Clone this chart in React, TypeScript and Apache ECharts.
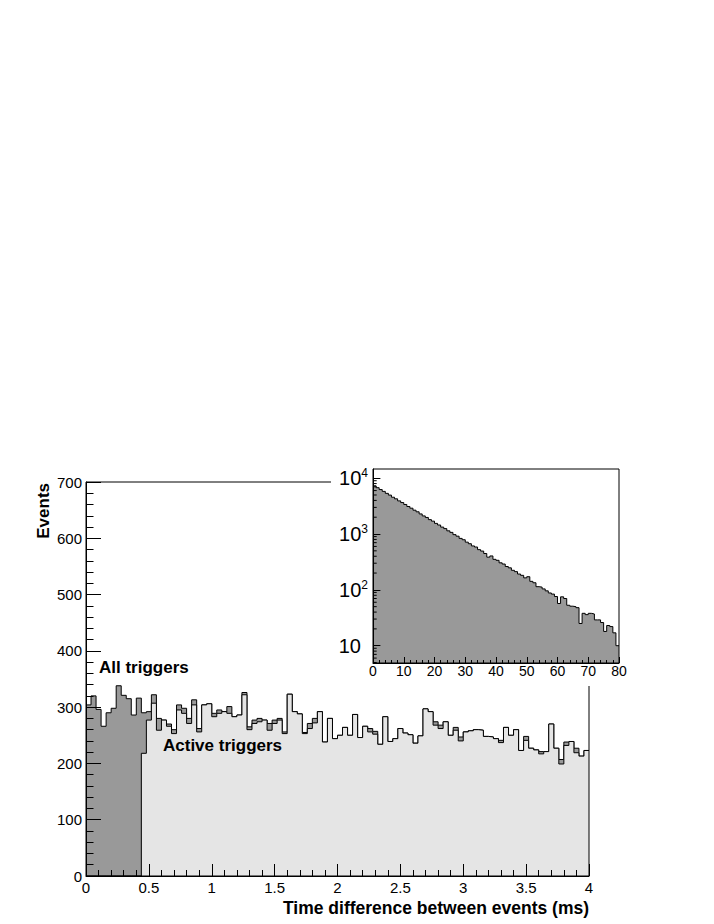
import React, { useEffect, useRef } from "react";
import * as echarts from "echarts";

// ---------------- Data ----------------
const MAIN_X_MIN = 0;
const MAIN_X_MAX = 4;

const allTriggers = [
  304, 320, 296, 266, 290, 298, 338, 321, 315, 286,
  316, 290, 292, 322, 280, 277, 270, 260, 304, 298,
  280, 313, 262, 304, 306, 289, 295, 292, 301, 283,
  286, 326, 265, 277, 280, 277, 271, 277, 280, 256,
  323, 292, 288, 255, 271, 280, 292, 238, 280, 244,
  250, 264, 250, 287, 246, 266, 262, 257, 234, 283,
  239, 244, 262, 254, 251, 236, 249, 297, 292, 274,
  268, 274, 250, 264, 247, 256, 258, 260, 259, 248,
  247, 244, 241, 264, 250, 260, 223, 248, 227, 224,
  221, 221, 270, 227, 207, 238, 239, 227, 213, 223,
];

const activeTriggers = [
  0, 0, 0, 0, 0, 0, 0, 0, 0, 0,
  0, 218, 277, 307, 259, 277, 266, 253, 295, 289,
  271, 304, 256, 304, 306, 283, 289, 292, 289, 283,
  286, 322, 260, 271, 274, 277, 259, 271, 277, 253,
  323, 292, 288, 253, 262, 272, 292, 238, 280, 244,
  250, 264, 250, 287, 246, 266, 256, 252, 234, 283,
  239, 244, 262, 254, 251, 236, 249, 297, 292, 268,
  262, 274, 250, 259, 240, 256, 258, 260, 259, 248,
  247, 244, 237, 264, 250, 260, 223, 241, 227, 224,
  217, 221, 270, 227, 199, 232, 239, 219, 213, 223,
];

const INSET_X_MIN = 0;
const INSET_X_MAX = 80;
const INSET_Y_MIN = 4.9;
const INSET_Y_MAX = 14600;

const insetCounts = [
  7300, 6760, 6250, 5800, 5350, 4980, 4560, 4270, 3920, 3660,
  3380, 3110, 2900, 2670, 2500, 2290, 2110, 1980, 1810, 1700,
  1550, 1450, 1330, 1250, 1140, 1070, 975, 915, 835, 790,
  715, 670, 612, 585, 525, 495, 448, 385, 405, 352,
  338, 305, 290, 262, 248, 224, 212, 192, 182, 164,
  172, 142, 134, 114, 112, 104, 96, 88, 84, 76,
  57, 75, 70, 53, 51, 50, 48, 25, 38, 36,
  38, 37, 29, 29, 26, 18, 23, 22, 17, 10,
];

const insetMinorTickValues = [
  5, 6, 7, 8, 9,
  20, 30, 40, 50, 60, 70, 80, 90,
  200, 300, 400, 500, 600, 700, 800, 900,
  2000, 3000, 4000, 5000, 6000, 7000, 8000, 9000,
];

const mainXTitle = "Time difference between events (ms)";
const mainYTitle = "Events";
const labelAll = "All triggers";
const labelActive = "Active triggers";

// ---------------- Helpers ----------------
const FONT = '"Liberation Sans", Arial, Helvetica, sans-serif';

// step-line points: left edge of every bin, plus the right edge of the last bin
function stepPoints(values: number[], xMin: number, xMax: number) {
  const n = values.length;
  const w = (xMax - xMin) / n;
  const pts = values.map((v, i) => [xMin + i * w, v]);
  pts.push([xMax, values[n - 1]]);
  return pts;
}

function histSeries(name: string, values: number[], xMin: number, xMax: number, fill: string, axisIdx: number, z: number) {
  return {
    type: "line",
    name,
    xAxisIndex: axisIdx,
    yAxisIndex: axisIdx,
    z,
    step: "end",
    symbol: "none",
    showSymbol: false,
    silent: true,
    clip: true,
    lineStyle: { color: "#000", width: 1 },
    areaStyle: { color: fill, opacity: 1, origin: "start" },
    data: stepPoints(values, xMin, xMax),
  };
}

const axisCommon = {
  axisLine: { show: true, lineStyle: { color: "#000", width: 1 } },
  splitLine: { show: false },
};

export default function App() {
  const ref = useRef<HTMLDivElement>(null);

  useEffect(() => {
    if (!ref.current) return;
    const chart = echarts.init(ref.current, undefined, { renderer: "svg" });

    const option: any = {
      animation: false,
      backgroundColor: "#fff",
      grid: [
        { left: 86, top: 482, width: 503, height: 394, show: true, borderColor: "#000", borderWidth: 1, z: 4 },
        { left: 373, top: 469, width: 246, height: 194, show: true, borderColor: "#000", borderWidth: 1, z: 8 },
      ],
      xAxis: [
        {
          gridIndex: 0, type: "value", min: MAIN_X_MIN, max: MAIN_X_MAX, interval: 0.5, z: 4,
          ...axisCommon,
          axisTick: { show: true, inside: true, length: 12, lineStyle: { color: "#000" } },
          minorTick: { show: true, splitNumber: 5, length: 6, lineStyle: { color: "#000" } },
          axisLabel: { margin: 4, fontSize: 15, color: "#000", fontFamily: FONT, formatter: (v: number) => String(v) },
        },
        {
          gridIndex: 1, type: "value", min: INSET_X_MIN, max: INSET_X_MAX, interval: 10, z: 8,
          ...axisCommon,
          axisTick: { show: true, inside: true, length: 6, lineStyle: { color: "#000" } },
          minorTick: { show: true, splitNumber: 5, length: 3, lineStyle: { color: "#000" } },
          axisLabel: { margin: 1, fontSize: 14, color: "#000", fontFamily: FONT },
        },
      ],
      yAxis: [
        {
          gridIndex: 0, type: "value", min: 0, max: 700, interval: 100, z: 4,
          ...axisCommon,
          axisTick: { show: true, inside: true, length: 15, lineStyle: { color: "#000" } },
          minorTick: { show: true, splitNumber: 5, length: 7.5, lineStyle: { color: "#000" } },
          axisLabel: { margin: 4, fontSize: 15, color: "#000", fontFamily: FONT },
        },
        {
          gridIndex: 1, type: "log", logBase: 10, min: INSET_Y_MIN, max: INSET_Y_MAX, z: 8,
          ...axisCommon,
          axisTick: { show: true, inside: true, length: 7.4, lineStyle: { color: "#000" } },
          minorTick: { show: false },
          axisLabel: {
            margin: 5,
            color: "#000",
            showMinLabel: false,
            showMaxLabel: false,
            formatter: (v: number) => {
              const l = Math.log10(v);
              const r = Math.round(l);
              if (Math.abs(l - r) > 1e-6) return "";
              if (r === 1) return "{b|10}{p|}";
              return `{b|10}{s|${r}}`;
            },
            rich: {
              b: { fontSize: 20, lineHeight: 22, fontFamily: FONT, color: "#000" },
              s: { fontSize: 12, lineHeight: 12, verticalAlign: "top", fontFamily: FONT, color: "#000" },
              p: { width: 7, fontSize: 12 },
            },
          },
        },
      ],
      series: [
        histSeries(labelAll, allTriggers, MAIN_X_MIN, MAIN_X_MAX, "#999999", 0, 2),
        histSeries(labelActive, activeTriggers, MAIN_X_MIN, MAIN_X_MAX, "#e5e5e5", 0, 3),
        histSeries("inset", insetCounts, INSET_X_MIN, INSET_X_MAX, "#999999", 1, 7),
        {
          type: "custom", name: "insetMinorTicks", xAxisIndex: 1, yAxisIndex: 1, z: 9,
          renderItem: (params: any, api: any) => {
            const p = api.coord([api.value(0), api.value(1)]);
            return {
              type: "line",
              shape: { x1: p[0], y1: p[1], x2: p[0] + 3.7, y2: p[1] },
              style: { stroke: "#000", lineWidth: 1 },
            };
          },
          encode: { x: 0, y: 1 },
          data: insetMinorTickValues.map((v) => [INSET_X_MIN, v]),
          silent: true,
        },
      ],
      graphic: [
        { type: "rect", z: 5, shape: { x: 331, y: 430, width: 383, height: 256 }, style: { fill: "#fff" }, silent: true },
        {
          type: "text", z: 10, x: 589, y: 908,
          style: { text: mainXTitle, fill: "#000", font: `bold 17.5px ${FONT}`, align: "right", verticalAlign: "middle", textAlign: "right", textVerticalAlign: "middle" },
        },
        {
          type: "text", z: 10, x: 43, y: 483, rotation: Math.PI / 2,
          style: { text: mainYTitle, fill: "#000", font: `bold 17px ${FONT}`, align: "right", verticalAlign: "middle", textAlign: "right", textVerticalAlign: "middle" },
        },
        {
          type: "text", z: 10, x: 99, y: 667,
          style: { text: labelAll, fill: "#000", font: `bold 17px ${FONT}`, align: "left", verticalAlign: "middle", textAlign: "left", textVerticalAlign: "middle" },
        },
        {
          type: "text", z: 10, x: 163, y: 745,
          style: { text: labelActive, fill: "#000", font: `bold 17px ${FONT}`, align: "left", verticalAlign: "middle", textAlign: "left", textVerticalAlign: "middle" },
        },
      ],
    };

    chart.setOption(option);
    return () => chart.dispose();
  }, []);

  return (
    <div
      ref={ref}
      style={{ position: "fixed", left: 0, top: 0, width: 714, height: 924, background: "#fff" }}
    />
  );
}
